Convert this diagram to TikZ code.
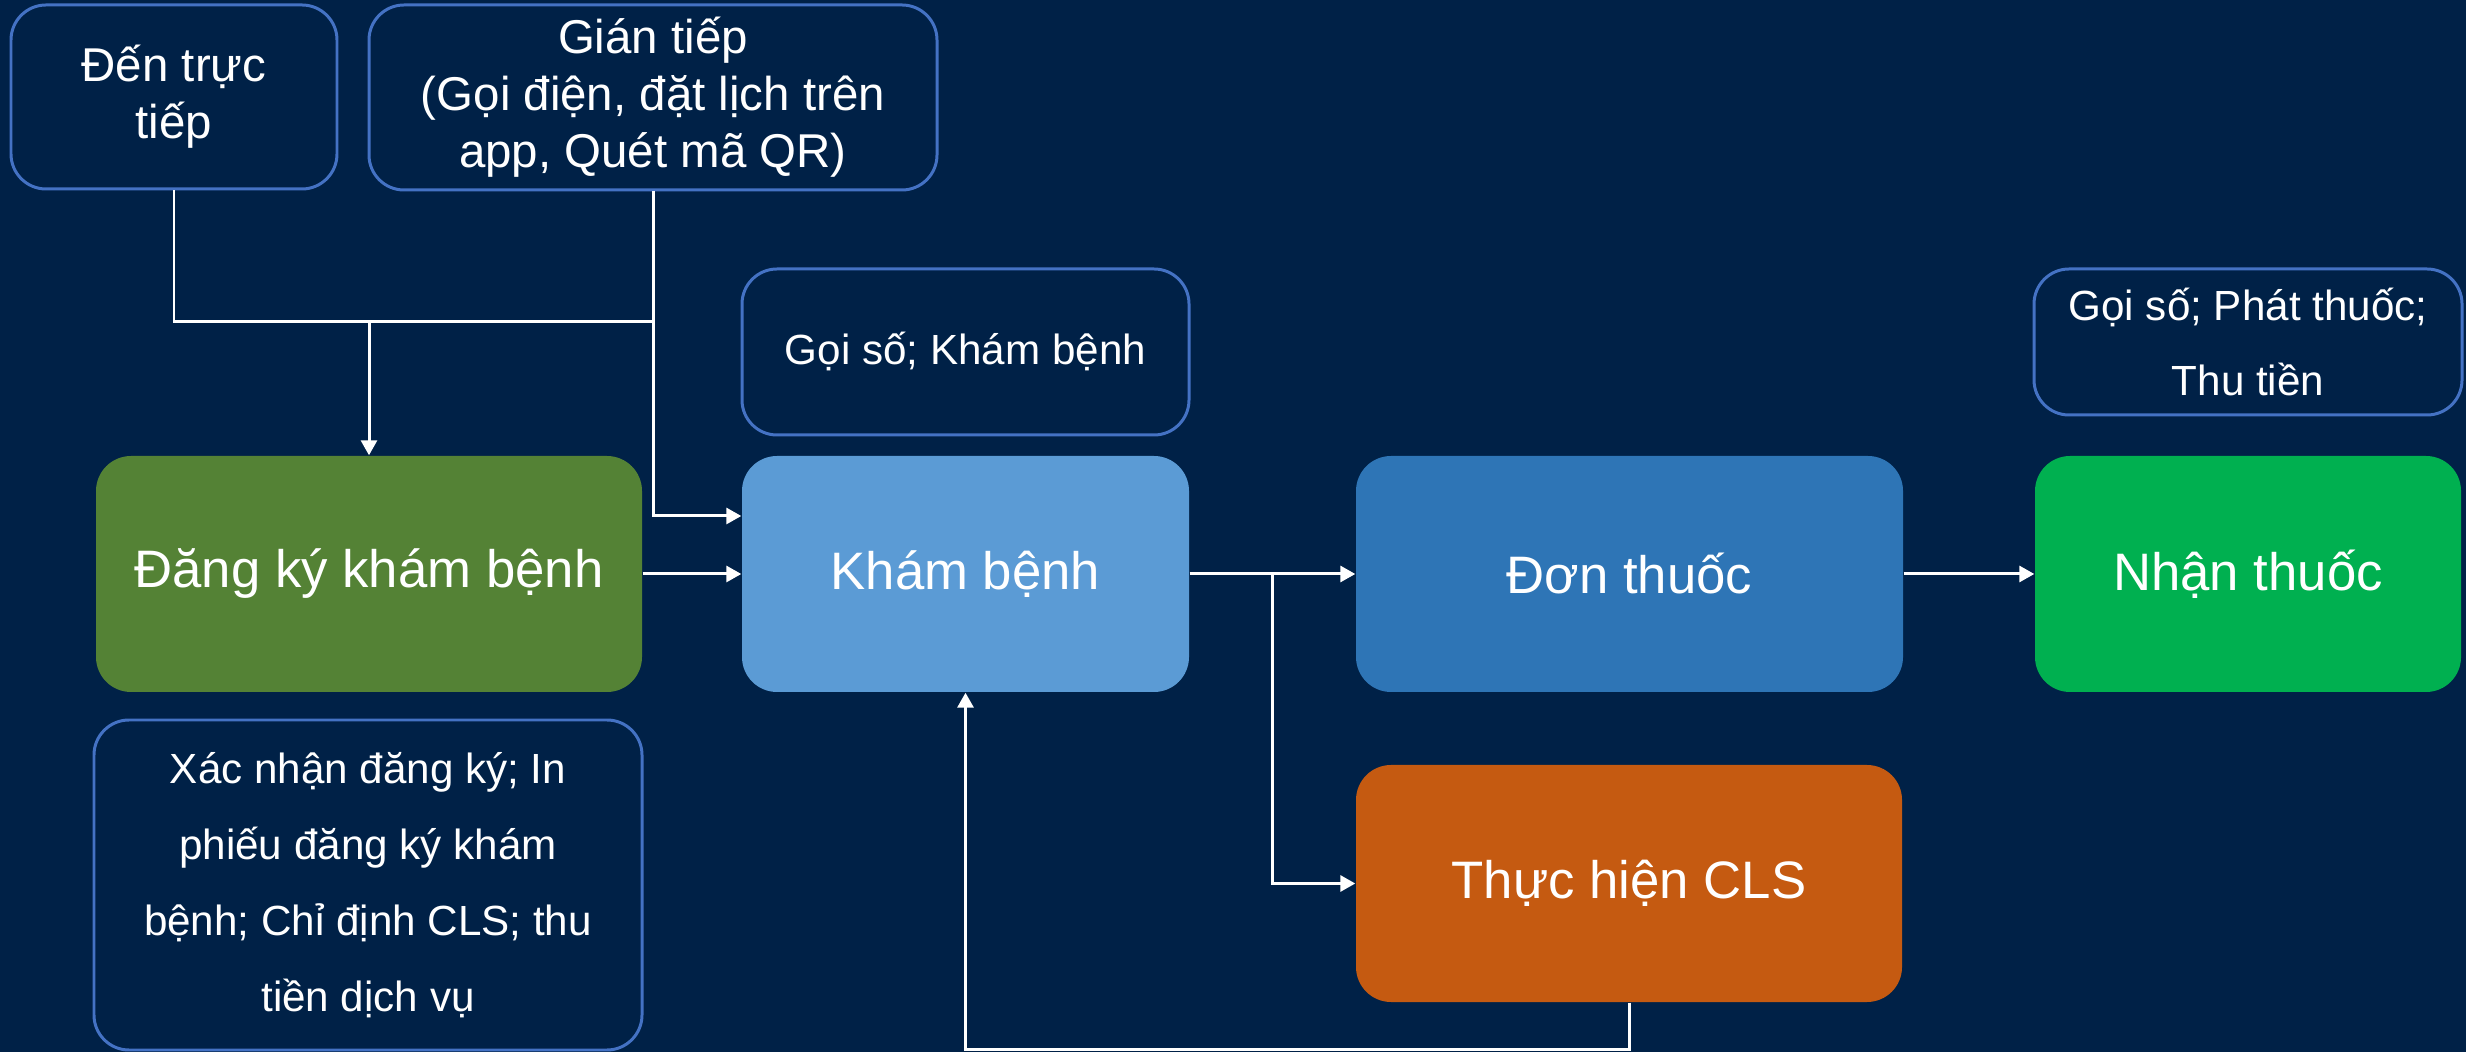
\documentclass[tikz,border=0pt]{standalone}
\usepackage{fontspec}
\setmainfont{Liberation Sans}
\usepackage{tikz}
\usetikzlibrary{arrows.meta,calc}

\definecolor{navy}{RGB}{0,33,71}
\definecolor{noteline}{RGB}{68,114,196}
\definecolor{regfill}{RGB}{84,130,53}
\definecolor{examfill}{RGB}{91,155,213}
\definecolor{rxfill}{RGB}{46,117,182}
\definecolor{pickfill}{RGB}{0,176,80}
\definecolor{clsfill}{RGB}{197,90,17}

\tikzset{
  stage/.style={rounded corners=0.35cm, inner sep=0pt, text=white, align=center,
    minimum height=2.36cm, font=\fontsize{15}{18}\selectfont},
  note/.style={draw=noteline, line width=0.85pt, rounded corners=0.35cm, inner sep=0pt,
    text=white, align=center, font=\fontsize{12}{21.6}\selectfont},
  source/.style={note, font=\fontsize{13.5}{16.2}\selectfont},
  link/.style={draw=white, line width=0.85pt},
  arrow/.style={link, -{Triangle[length=0.15cm,width=0.16cm]}}
}

\begin{document}
\begin{tikzpicture}
  \fill[navy] (0,0) rectangle (24.66,-10.52);
  \useasboundingbox (0,0) rectangle (24.66,-10.52);

  \node[source, minimum width=3.26cm, minimum height=1.84cm] (direct) at (1.74,-0.97) {Đến trực\\tiếp};
  \node[source, minimum width=5.68cm, minimum height=1.85cm] (indirect) at (6.53,-0.975) {Gián tiếp\\(Gọi điện, đặt lịch trên\\app, Quét mã QR)};
  \node[note, minimum width=4.47cm, minimum height=1.66cm] (examnote) at (9.655,-3.52) {Gọi số; Khám bệnh};
  \node[note, minimum width=4.28cm, minimum height=1.46cm] (picknote) at (22.48,-3.42) {Gọi số; Phát thuốc;\\Thu tiền};
  \node[note, minimum width=5.48cm, minimum height=3.30cm] (regnote) at (3.68,-8.85) {Xác nhận đăng ký; In\\phiếu đăng ký khám\\bệnh; Chỉ định CLS; thu\\tiền dịch vụ};

  \node[stage, fill=regfill, minimum width=5.46cm] (reg) at (3.69,-5.74) {Đăng ký khám bệnh};
  \node[stage, fill=examfill, minimum width=4.47cm] (exam) at (9.655,-5.74) {Khám bệnh};
  \node[stage, fill=rxfill, minimum width=5.47cm] (rx) at (16.295,-5.74) {Đơn thuốc};
  \node[stage, fill=pickfill, minimum width=4.26cm] (pick) at (22.48,-5.74) {Nhận thuốc};
  \node[stage, fill=clsfill, minimum width=5.46cm, minimum height=2.37cm] (cls) at (16.29,-8.835) {Thực hiện CLS};

  \coordinate (merge) at (indirect.south |- 0,-3.22);
  \coordinate (split) at (12.72,-5.74);

  \draw[link] (direct.south) |- (merge);
  \draw[arrow] (indirect.south) |- ($(exam.west)+(0,0.58)$);
  \draw[arrow] (reg.north |- merge) -- (reg.north);
  \draw[arrow] (reg) -- (exam);
  \draw[arrow] (exam) -- (rx);
  \draw[arrow] (rx) -- (pick);
  \draw[arrow] (split) |- (cls.west);
  \draw[arrow] (cls.south) -- ++(0,-0.47) -| (exam.south);
\end{tikzpicture}
\end{document}
